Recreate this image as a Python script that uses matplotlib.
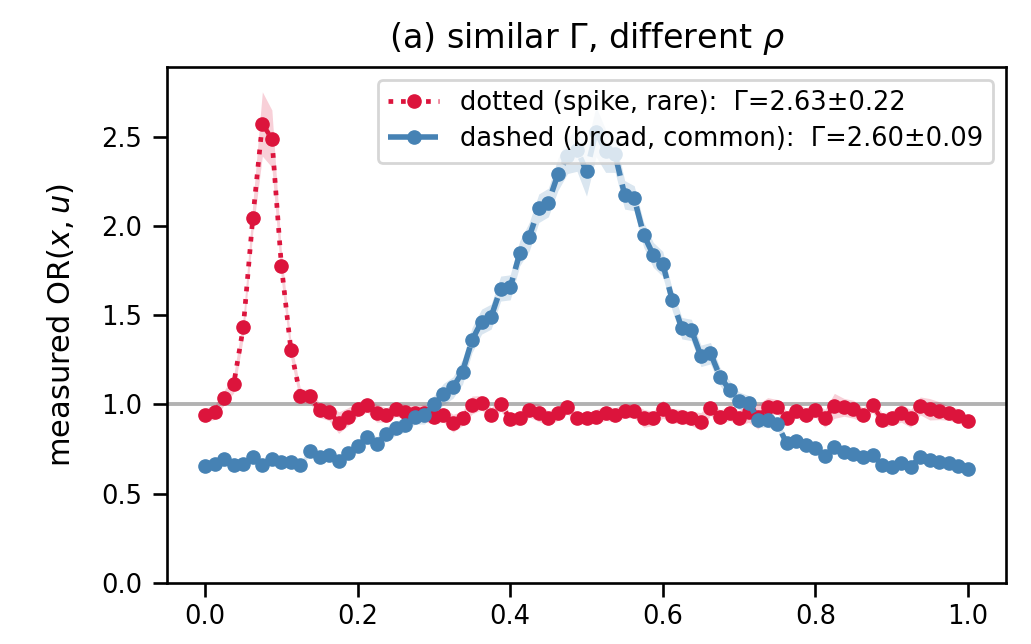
import numpy as np
import matplotlib
matplotlib.use("Agg")
import matplotlib.pyplot as plt

# ---- data ----
x = np.linspace(0.0, 1.0, 81)

red_y = [0.940, 0.956, 1.038, 1.115, 1.432, 2.045, 2.571, 2.489, 1.776, 1.304,
         1.046, 1.046, 0.967, 0.960, 0.898, 0.932, 0.973, 0.997, 0.951, 0.941,
         0.973, 0.960, 0.951, 0.951, 0.932, 0.941, 0.895, 0.922, 0.997, 1.010,
         0.941, 1.003, 0.917, 0.922, 0.969, 0.954, 0.922, 0.951, 0.988, 0.922,
         0.922, 0.932, 0.951, 0.941, 0.965, 0.965, 0.922, 0.922, 0.973, 0.936,
         0.932, 0.922, 0.904, 0.979, 0.928, 0.951, 0.922, 0.960, 0.932, 0.988,
         0.988, 0.922, 0.965, 0.941, 0.969, 0.922, 0.992, 0.984, 0.973, 0.941,
         0.997, 0.913, 0.922, 0.951, 0.922, 0.992, 0.973, 0.965, 0.951, 0.936,
         0.907]

red_err = [0.04, 0.04, 0.04, 0.05, 0.06, 0.08, 0.18, 0.16, 0.08, 0.05,
           0.04, 0.04, 0.04, 0.05, 0.06, 0.05, 0.04, 0.04, 0.05, 0.04,
           0.04, 0.04, 0.04, 0.05, 0.04, 0.04, 0.05, 0.04, 0.05, 0.04,
           0.04, 0.04, 0.03, 0.04, 0.04, 0.05, 0.04, 0.04, 0.04, 0.03,
           0.03, 0.04, 0.04, 0.04, 0.04, 0.04, 0.05, 0.04, 0.05, 0.04,
           0.04, 0.04, 0.05, 0.04, 0.04, 0.04, 0.04, 0.06, 0.07, 0.05,
           0.04, 0.04, 0.04, 0.04, 0.04, 0.05, 0.07, 0.05, 0.05, 0.04,
           0.04, 0.04, 0.04, 0.05, 0.05, 0.05, 0.06, 0.05, 0.04, 0.04,
           0.03]

blue_y = [0.655, 0.667, 0.693, 0.661, 0.667, 0.704, 0.661, 0.693, 0.680, 0.680,
          0.661, 0.740, 0.708, 0.717, 0.683, 0.727, 0.768, 0.816, 0.779, 0.835,
          0.867, 0.885, 0.930, 0.940, 1.000, 1.058, 1.095, 1.184, 1.361, 1.464,
          1.492, 1.649, 1.656, 1.847, 1.940, 2.099, 2.131, 2.288, 2.393, 2.426,
          2.307, 2.528, 2.420, 2.400, 2.174, 2.155, 1.950, 1.838, 1.787, 1.584,
          1.427, 1.417, 1.272, 1.287, 1.156, 1.083, 1.020, 1.010, 0.913, 0.911,
          0.890, 0.783, 0.797, 0.773, 0.754, 0.711, 0.760, 0.736, 0.723, 0.708,
          0.717, 0.661, 0.652, 0.670, 0.652, 0.704, 0.689, 0.680, 0.670, 0.655,
          0.640]

blue_err = [0.02, 0.02, 0.02, 0.02, 0.02, 0.02, 0.02, 0.02, 0.02, 0.02,
            0.02, 0.02, 0.02, 0.02, 0.03, 0.03, 0.03, 0.03, 0.04, 0.04,
            0.04, 0.04, 0.04, 0.05, 0.05, 0.06, 0.06, 0.07, 0.07, 0.07,
            0.07, 0.07, 0.07, 0.07, 0.08, 0.08, 0.08, 0.09, 0.10, 0.12,
            0.14, 0.14, 0.12, 0.10, 0.08, 0.07, 0.07, 0.07, 0.07, 0.06,
            0.06, 0.06, 0.06, 0.06, 0.05, 0.05, 0.05, 0.04, 0.04, 0.04,
            0.03, 0.03, 0.03, 0.03, 0.03, 0.03, 0.03, 0.03, 0.03, 0.03,
            0.03, 0.02, 0.02, 0.02, 0.02, 0.02, 0.02, 0.02, 0.02, 0.02,
            0.02]

red_label = "dotted (spike, rare):  \u0393=2.63\u00b10.22"
blue_label = "dashed (broad, common):  \u0393=2.60\u00b10.09"
title = "(a) similar \u0393, different $\\rho$"
ylabel = "measured OR$(x, u)$"
xticks = [0.0, 0.2, 0.4, 0.6, 0.8, 1.0]
yticks = [0.0, 0.5, 1.0, 1.5, 2.0, 2.5]

RED = "#DC143C"
BLUE = "#4682B4"

plt.rcParams["font.family"] = ["DejaVu Sans"]

fig = plt.figure(figsize=(10.31, 6.44), dpi=100)
ax = fig.add_axes([167 / 1031, (644 - 583) / 644, (1006 - 167) / 1031, (583 - 67) / 644])

ry = np.array(red_y); re = np.array(red_err)
by = np.array(blue_y); be = np.array(blue_err)

ax.axhline(1.0, color="grey", lw=2.8, alpha=0.6, zorder=1)

ax.fill_between(x, ry - re, ry + re, color=RED, alpha=0.2, lw=0, zorder=2)
ax.fill_between(x, by - be, by + be, color=BLUE, alpha=0.2, lw=0, zorder=2)

ax.plot(x, ry, linestyle=":", color=RED, lw=3.4, marker="o", ms=9.5,
        label=red_label, zorder=3)
ax.plot(x, by, linestyle="--", color=BLUE, lw=4.0, marker="o", ms=9.5,
        label=blue_label, zorder=3)

ax.set_xlim(-0.05, 1.05)
ax.set_ylim(0.0, 2.89)
ax.set_xticks(xticks)
ax.set_yticks(yticks)
ax.set_xticklabels([f"{t:.1f}" for t in xticks])
ax.set_yticklabels([f"{t:.1f}" for t in yticks])
ax.tick_params(labelsize=18.5, width=1.9, length=10)
ax.tick_params(axis="y", pad=8)
ax.tick_params(axis="x", pad=5)
for s in ax.spines.values():
    s.set_linewidth(1.9)

ax.set_title(title, fontsize=24, pad=14)
ax.set_ylabel(ylabel, fontsize=22)
ax.yaxis.set_label_coords(-0.108, 0.5)

leg = ax.legend(loc="upper right", fontsize=18.5, framealpha=0.8,
                handlelength=2.0, borderpad=0.4, labelspacing=0.4)
leg.get_frame().set_linewidth(2.0)

fig.savefig("out.png", dpi=100)
